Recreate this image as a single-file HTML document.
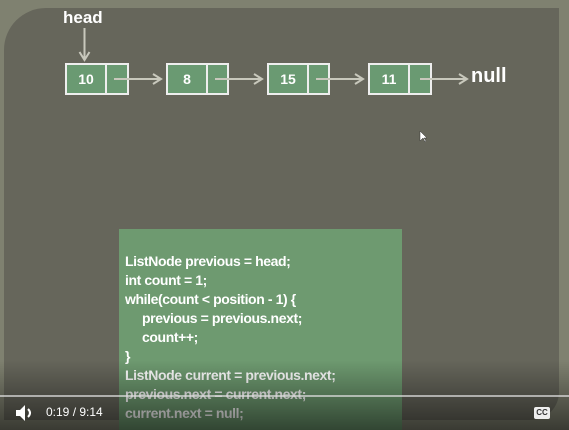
<!DOCTYPE html>
<html><head><style>
html,body{margin:0;padding:0;width:569px;height:430px;overflow:hidden;background:#7f8170;font-family:"Liberation Sans",sans-serif}
.panel{position:absolute;left:4px;top:8px;width:555px;height:412px;background:#66665b;border-radius:42px 0 28px 0}
.node{position:absolute;top:63px;height:32px;border:2px solid #eee;box-sizing:border-box;background:#6a9a72}
.node .d{position:absolute;left:0;top:0;bottom:0;border-right:2px solid #eee;color:#fff;font-weight:bold;font-size:14px;text-align:center;line-height:28px}
.code{position:absolute;left:119px;top:229px;width:283px;height:201px;background:#6e9a70}
.code div{position:absolute;left:6px;color:#fff;font-weight:bold;font-size:14px;letter-spacing:-0.4px;white-space:pre}
.bar{position:absolute;left:0;top:360px;width:569px;height:70px;background:linear-gradient(rgba(0,0,0,0),rgba(0,0,0,0.55))}
</style></head><body>
<div class="panel"></div>
<div style="position:absolute;left:63px;top:8px;color:#fff;font-weight:bold;font-size:17px">head</div>
<div class="node" style="left:65px;width:64px"><div class="d" style="width:38px">10</div></div>
<div class="node" style="left:166px;width:63px"><div class="d" style="width:38px">8</div></div>
<div class="node" style="left:267px;width:63px"><div class="d" style="width:38px">15</div></div>
<div class="node" style="left:368px;width:64px"><div class="d" style="width:38px">11</div></div>
<div style="position:absolute;left:471px;top:65px;color:#fff;font-weight:bold;font-size:20px">null</div>
<svg width="569" height="430" style="position:absolute;left:0;top:0">
<g stroke="#c8c8bc" stroke-width="2" fill="none">
<line x1="84.5" y1="28" x2="84.5" y2="59"/><polyline points="79.5,52 84.5,60 89.5,52"/>
<line x1="114" y1="79" x2="160" y2="79"/><polyline points="153,74 161,79 153,84"/>
<line x1="215" y1="79" x2="261" y2="79"/><polyline points="254,74 262,79 254,84"/>
<line x1="316" y1="79" x2="362" y2="79"/><polyline points="355,74 363,79 355,84"/>
<line x1="420" y1="79" x2="466" y2="79"/><polyline points="459,74 467,79 459,84"/>
</g>
<path d="M420 131 L420 141 L423 138 L425 142 L426 141 L424 138 L427 138 Z" fill="#fff" stroke="#333" stroke-width="0.5"/>
</svg>
<div class="code">
<div style="top:24px">ListNode previous = head;</div>
<div style="top:43px">int count = 1;</div>
<div style="top:62px">while(count &lt; position - 1) {</div>
<div style="top:81px;left:23px">previous = previous.next;</div>
<div style="top:100px;left:23px">count++;</div>
<div style="top:119px">}</div>
<div style="top:138px">ListNode current = previous.next;</div>
<div style="top:157px">previous.next = current.next;</div>
<div style="top:176px">current.next = null;</div>
</div>
<div class="bar"></div>
<div style="position:absolute;left:0;top:395px;width:569px;height:2px;background:rgba(220,220,220,0.7)"></div>
<svg width="30" height="20" style="position:absolute;left:14px;top:403px">
<path d="M2 7 H6 L11 2 V18 L6 13 H2 Z" fill="#fff"/>
<path d="M14 6 Q18 10 14 14" stroke="#fff" stroke-width="2" fill="none"/>
</svg>
<div style="position:absolute;left:46px;top:405px;color:#fff;font-size:12px">0:19 / 9:14</div>
<div style="position:absolute;left:534px;top:407px;width:16px;height:12px;background:#eee;border-radius:2px;color:#333;font-size:8px;font-weight:bold;text-align:center;line-height:12px">CC</div>
</body></html>
